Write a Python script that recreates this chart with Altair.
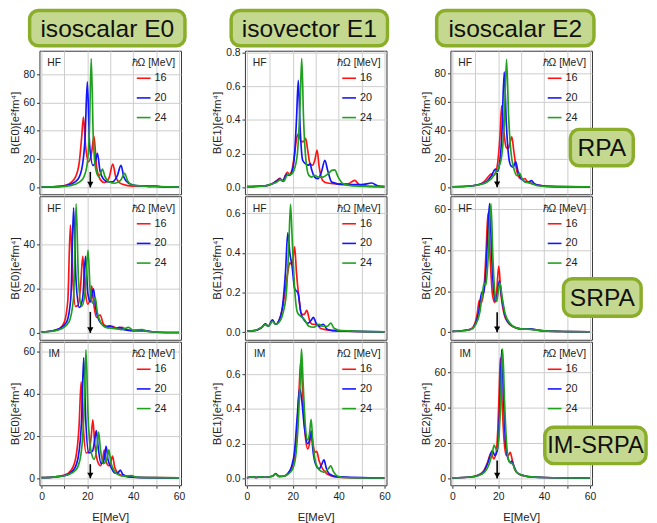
import altair as alt
import pandas as pd

OMEGAS = ["16", "20", "24"]
COLORS = ["#ff1414", "#1414ff", "#1fa01f"]
E_TICKS = [0, 10, 20, 30, 40, 50, 60]

# ---------------- isoscalar E0 ----------------
E0_RPA_16 = [(0,0.3),(8,0.8),(12,2.5),(15,8),(16.5,18),(17.5,35),(18.3,49.7),(19.2,30),(20.5,18),(21.8,24),(22.9,36),(24,15),(25.5,6),(27.5,3.5),(29.5,7),(31.1,16.5),(32.5,7),(35,2.5),(40,1),(45,1.2),(47,0.5),(50,1.0),(53,0.3),(60,0.2)]
E0_RPA_20 = [(0,0.3),(8,0.8),(13,2.5),(16,6),(17.8,15),(19,35),(20,74.5),(21,30),(22.5,15.5),(23.5,18),(24.4,24),(25.5,12),(27,6),(29,4),(31,4),(33,8),(34.7,15.6),(36,7),(38,3),(42,1.2),(48,1),(52,0.5),(60,0.2)]
E0_RPA_24 = [(0,0.3),(10,0.8),(15,2.5),(18,6),(19.8,15),(20.9,40),(21.7,91),(22.6,35),(23.8,12),(24.9,8),(25.8,10),(26.6,13),(27.6,8),(29.5,4),(32,3),(34.5,5),(36.3,10),(37.5,5),(40,1.5),(45,1.0),(60,0.2)]

E0_SRPA_16 = [(0,0.5),(5,1),(8,2),(10,5),(11.5,15),(12.6,48.8),(13.6,25),(14.8,12),(16,12.5),(17.1,22),(18,34.6),(19,20),(20.2,13),(21.2,16),(21.9,21.3),(22.8,13),(24,7),(25.6,8.1),(27,4),(29,2.5),(31,3),(33,2),(35,2.5),(37,1.5),(40,1),(44,1),(50,0.3),(60,0.2)]
E0_SRPA_20 = [(0,0.5),(5,1),(8,2),(11,5),(12.8,16),(14,56.6),(15,25),(16.5,11.5),(18,16),(19.2,34.6),(20.2,18),(21.3,14),(22.7,19.9),(23.7,11),(25.5,5),(28,3),(30,3.2),(32,2),(34,2.5),(36,1.5),(40,1),(45,1),(50,0.3),(60,0.2)]
E0_SRPA_24 = [(0,0.4),(5,0.8),(9,2),(12,5),(14,16),(15.1,58.4),(16.1,25),(17.5,12),(19,18),(20.3,37.5),(21.3,18),(22.3,13.5),(23.4,16.2),(24.4,9),(26,4.5),(28,2.5),(32,2),(35,1.5),(38,2.5),(40,1.2),(44,1.5),(46,0.7),(52,0.3),(60,0.2)]

E0_IM_16 = [(0,0.3),(5,0.6),(10,1.5),(13,4),(15,10),(16.4,25),(17.3,45.8),(18.2,25),(19.5,12),(20.8,13),(21.7,20),(22.4,27.7),(23.2,17),(24.5,8),(25.8,6),(26.7,9),(27.4,13.4),(28.2,8),(29.4,6),(30.3,8),(31,10.6),(32,5),(34,1.8),(37,0.8),(40,0.5),(50,0.3),(60,0.2)]
E0_IM_20 = [(0,0.3),(5,0.6),(10,1.3),(14,4),(16,10),(17.5,28),(18.4,57.2),(19.3,28),(20.6,12),(22.3,13),(23.2,18),(23.9,22.7),(24.7,15),(26,7),(27,7.5),(27.6,11),(28.2,15.2),(29,9),(30.5,5),(32,2.5),(33.5,2.8),(34.4,3.9),(35.5,1.8),(38,0.8),(45,0.3),(60,0.2)]
E0_IM_24 = [(0,0.3),(5,0.6),(10,1.2),(15,4),(17,10),(18.5,30),(19.4,61),(20.3,30),(21.6,13),(23,9),(24.2,15),(24.9,21.9),(25.7,14),(27,7),(28.2,8),(28.9,11),(29.4,13.5),(30.2,8),(31.5,4),(33,2),(36,1),(39.5,1.3),(41,0.6),(50,0.3),(60,0.2)]

# ---------------- isovector E1 ----------------
E1_RPA_16 = [(0,0.003),(8,0.008),(11,0.02),(13,0.04),(14.4,0.052),(15.5,0.04),(17.6,0.088),(18.5,0.075),(19.6,0.1),(20.8,0.2),(21.8,0.3),(22.6,0.316),(23.6,0.27),(24.6,0.27),(25.6,0.29),(26.5,0.22),(27.5,0.14),(28.6,0.13),(29.6,0.16),(30.6,0.22),(31.5,0.12),(33,0.04),(35,0.025),(40,0.02),(44,0.02),(47,0.04),(49,0.015),(52,0.006),(60,0.003)]
E1_RPA_20 = [(0,0.003),(8,0.008),(11,0.02),(13,0.035),(14.3,0.048),(15.7,0.035),(17.2,0.075),(18.4,0.07),(19.6,0.09),(20.8,0.2),(21.6,0.4),(22.4,0.634),(23.2,0.35),(24.3,0.16),(25.5,0.14),(26.8,0.13),(27.5,0.14),(28.3,0.1),(29.5,0.06),(31,0.05),(32.5,0.09),(34,0.16),(35.2,0.1),(37,0.03),(42,0.015),(50,0.015),(54.5,0.025),(57,0.008),(60,0.003)]
E1_RPA_24 = [(0,0.003),(8,0.008),(11,0.02),(13,0.03),(14.6,0.045),(16,0.035),(17.8,0.075),(19,0.075),(20.5,0.1),(22,0.2),(23.2,0.5),(23.9,0.765),(24.7,0.4),(25.8,0.15),(27,0.07),(28.3,0.06),(29.5,0.07),(31,0.06),(33,0.06),(35.5,0.08),(37,0.1),(38.3,0.103),(39.8,0.06),(42,0.02),(46,0.008),(60,0.003)]

E1_SRPA_16 = [(0,0.005),(4,0.01),(6.5,0.025),(8,0.04),(9.3,0.03),(11.1,0.06),(12.5,0.04),(14,0.06),(15.5,0.12),(16.8,0.22),(17.8,0.3),(18.7,0.35),(19.7,0.34),(20.8,0.43),(21.6,0.3),(22.6,0.18),(23.8,0.09),(25,0.09),(26.1,0.11),(27.3,0.06),(28.5,0.04),(30.5,0.04),(32,0.02),(35,0.012),(40,0.006),(60,0.002)]
E1_SRPA_20 = [(0,0.005),(4,0.01),(6.5,0.025),(8,0.042),(9.3,0.03),(11.1,0.062),(12.5,0.04),(14,0.06),(15.5,0.13),(16.8,0.3),(17.8,0.5),(18.7,0.4),(19.7,0.33),(20.8,0.22),(22.3,0.197),(23.5,0.1),(25,0.06),(26.5,0.045),(28,0.06),(29,0.075),(30,0.05),(31.5,0.03),(33.3,0.04),(35,0.015),(38,0.008),(60,0.002)]
E1_SRPA_24 = [(0,0.005),(4,0.01),(6.5,0.025),(8,0.038),(9.3,0.03),(11.1,0.055),(12.5,0.04),(14,0.05),(15.8,0.1),(17.2,0.2),(18.3,0.45),(19,0.644),(19.8,0.45),(20.8,0.22),(22,0.1),(23.5,0.08),(25,0.065),(27,0.03),(29,0.025),(31.5,0.04),(33,0.03),(35,0.03),(36.6,0.046),(38,0.02),(41,0.008),(60,0.002)]

E1_IM_16 = [(0,0.003),(2.5,0.009),(4,0.005),(5.5,0.009),(8,0.006),(11,0.012),(12.6,0.025),(14,0.01),(16,0.012),(18,0.03),(19.5,0.06),(20.8,0.13),(21.8,0.28),(22.7,0.5),(23.5,0.68),(24.3,0.5),(25.4,0.25),(26.5,0.17),(27.3,0.2),(28,0.27),(28.8,0.2),(29.6,0.15),(30.4,0.155),(31.5,0.1),(33,0.055),(35,0.025),(38,0.01),(42,0.005),(60,0.002)]
E1_IM_20 = [(0,0.003),(2.5,0.009),(4,0.005),(5.5,0.009),(8,0.006),(11,0.012),(12.6,0.027),(14,0.012),(16,0.012),(18,0.03),(19.5,0.07),(20.8,0.16),(21.9,0.35),(23,0.52),(23.9,0.45),(25,0.3),(26.4,0.2),(27.3,0.22),(28,0.273),(28.8,0.16),(30,0.08),(31.5,0.055),(32.6,0.08),(33.6,0.106),(34.6,0.06),(36,0.025),(39,0.01),(60,0.002)]
E1_IM_24 = [(0,0.003),(2.5,0.009),(4,0.005),(5.5,0.009),(8,0.006),(11,0.012),(12.6,0.024),(14,0.01),(16,0.012),(18,0.025),(19.8,0.05),(21.2,0.12),(22.3,0.3),(23.2,0.55),(23.8,0.745),(24.5,0.55),(25.5,0.3),(26.5,0.22),(27.3,0.26),(28,0.34),(28.8,0.2),(30,0.09),(31.5,0.05),(33.5,0.035),(35.5,0.055),(36.6,0.072),(37.7,0.04),(39.5,0.012),(42,0.005),(60,0.002)]

# ---------------- isoscalar E2 ----------------
E2_RPA_16 = [(0,0.3),(8,0.8),(12,2),(14.5,5),(16,8),(16.9,9.4),(17.8,8),(18.8,10),(19.8,18),(20.7,35),(21.5,57.3),(22.4,40),(23.4,28),(24.3,27),(25.1,31),(25.9,35.4),(26.8,25),(28,12),(29.5,6),(30.6,5.5),(31.6,6),(32.6,4),(34,3),(36,2),(40,0.8),(45,0.4),(60,0.2)]
E2_RPA_20 = [(0,0.3),(8,0.8),(12,2),(15,4),(17,8),(18.8,12.6),(19.6,11),(20.4,15),(21.5,35),(22.6,81),(23.5,45),(24.5,22),(25.5,15),(26.5,14),(27.6,17.8),(28.6,11),(30,6),(31.5,4),(33,3.5),(34.5,4.6),(35.7,2.5),(38,1.2),(42,0.5),(60,0.2)]
E2_RPA_24 = [(0,0.3),(8,0.8),(12,1.8),(15,3.5),(17,6),(18.8,10),(20.2,14),(21.5,22),(22.6,45),(23.6,89.7),(24.5,50),(25.5,25),(26.8,13),(28.2,8),(29.3,9.8),(30.4,6),(31.7,3.5),(33,3.2),(34.5,2.5),(37,1),(42,0.4),(60,0.2)]

E2_SRPA_16 = [(0,0.4),(5,0.8),(8,1.5),(10,5),(10.8,9),(11.7,15.5),(12.6,14.5),(13.8,22),(14.7,40),(15.5,58),(16.5,35),(17.5,18),(18.5,14.5),(19.3,20),(20.2,32.2),(21.2,18),(22.5,9),(24,5),(26,3),(28,2),(31,1.5),(34,1.5),(37,1),(40,0.6),(50,0.3),(60,0.2)]
E2_SRPA_20 = [(0,0.4),(5,0.8),(8,1.4),(10,4),(11.5,10),(12.8,19.5),(13.6,19),(14.6,30),(15.4,48),(16.2,62.7),(17.2,35),(18.2,18),(19,15),(19.8,20),(20.5,25),(21.5,17),(23,8),(25,4),(28,2),(31,1.5),(34,1.6),(37,1),(40,0.6),(50,0.3),(60,0.2)]
E2_SRPA_24 = [(0,0.4),(5,0.8),(8,1.3),(10,3.5),(12,10),(13.2,20),(13.8,23.8),(14.6,23),(15.5,35),(16.8,62.7),(17.7,35),(18.6,18),(19.3,15),(20,20),(20.7,24),(21.7,17),(23,9),(25,4.5),(28,2),(31,1.5),(34,1.4),(37,1),(40,0.6),(50,0.3),(60,0.2)]

E2_IM_16 = [(0,0.3),(8,0.8),(11,1.8),(13.5,4),(15.3,9),(16.9,14.5),(18,11),(19,14),(19.8,28),(20.4,50),(20.9,68.3),(21.6,45),(22.5,22),(23.5,13),(24.4,13),(25.2,14.8),(26,11),(27.2,5),(29,2.5),(32,1.2),(40,0.5),(60,0.2)]
E2_IM_20 = [(0,0.3),(8,0.8),(11,1.6),(13.5,3.5),(15.5,9),(17.4,15.8),(18.5,13),(19.6,16),(20.5,35),(21.5,73),(22.3,45),(23.2,20),(24.3,11),(25.3,9),(25.9,9.8),(26.8,7),(28,3.5),(30,2),(33,1),(40,0.5),(60,0.2)]
E2_IM_24 = [(0,0.3),(8,0.8),(11,1.5),(14,3.5),(16,8),(17.3,14),(18.2,18.8),(19.3,16),(20.2,22),(21,42),(21.9,73.4),(22.7,45),(23.6,20),(24.6,10),(25.5,8.5),(26.2,8.5),(27,6),(28,3.5),(30,2),(33,1),(40,0.5),(60,0.2)]

DATA = [
    [[E0_RPA_16, E0_RPA_20, E0_RPA_24], [E0_SRPA_16, E0_SRPA_20, E0_SRPA_24], [E0_IM_16, E0_IM_20, E0_IM_24]],
    [[E1_RPA_16, E1_RPA_20, E1_RPA_24], [E1_SRPA_16, E1_SRPA_20, E1_SRPA_24], [E1_IM_16, E1_IM_20, E1_IM_24]],
    [[E2_RPA_16, E2_RPA_20, E2_RPA_24], [E2_SRPA_16, E2_SRPA_20, E2_SRPA_24], [E2_IM_16, E2_IM_20, E2_IM_24]],
]

COL_TITLES = ["isoscalar E0", "isovector E1", "isoscalar E2"]
ROW_TITLES = ["RPA", "SRPA", "IM-SRPA"]
ROW_TAGS = ["HF", "HF", "IM"]
Y_TITLES = ["B(E0)[e²fm⁴]", "B(E1)[e²fm⁴]", "B(E2)[e²fm⁴]"]
Y_DOMAINS = [
    [[-4.8, 96.5], [-3.1, 61.8], [-3.3, 64.8]],
    [[-0.042, 0.81], [-0.038, 0.685], [-0.04, 0.787]],
    [[-5.0, 95.8], [-3.7, 66.3], [-3.9, 77.4]],
]
Y_TICKS = [
    [[0, 20, 40, 60, 80], [0, 20, 40], [0, 20, 40, 60]],
    [[0, 0.2, 0.4, 0.6, 0.8], [0, 0.2, 0.4, 0.6], [0, 0.2, 0.4, 0.6]],
    [[0, 20, 40, 60, 80], [0, 20, 40, 60], [0, 20, 40, 60]],
]
Y_FORMAT = ["d", ".1f", "d"]
ARROW_E = [21.3, None, 19.5]
ARROW_TOP = [[11, 9.5, 6.7], None, [10, 9.7, 10.2]]

W, H = 144, 146
X_DOMAIN = [-0.9, 60.9]
FONT = "Liberation Sans"
BOX_FILL = "#c4d98f"
BOX_STROKE = "#8aad2a"

ONE = pd.DataFrame({"a": [0]})


def text_layer(txt, x, y, size=10.5, align="center"):
    return alt.Chart(ONE).mark_text(font=FONT, fontSize=size, align=align, baseline="middle", color="#222").encode(
        x=alt.value(x), y=alt.value(y), text=alt.value(txt))


def box_layers(txt, x1, x2, y1, y2, size=25):
    rect = alt.Chart(ONE).mark_rect(fill=BOX_FILL, stroke=BOX_STROKE, strokeWidth=3.5, cornerRadius=9).encode(
        x=alt.value(x1), x2=alt.value(x2), y=alt.value(y1), y2=alt.value(y2))
    t = alt.Chart(ONE).mark_text(font=FONT, fontSize=size, align="center", baseline="middle", color="#111").encode(
        x=alt.value((x1 + x2) / 2), y=alt.value((y1 + y2) / 2 + 1), text=alt.value(txt))
    return [rect, t]


def panel(ci, ri):
    rows = []
    for om, pts in zip(OMEGAS, DATA[ci][ri]):
        for e, b in pts:
            rows.append({"E": e, "B": b, "w": om})
    df = pd.DataFrame(rows)
    bottom = ri == 2
    xs = alt.Scale(domain=X_DOMAIN, nice=False, zero=False)
    ys = alt.Scale(domain=Y_DOMAINS[ci][ri], nice=False, zero=False)
    if bottom:
        xaxis = alt.Axis(values=E_TICKS, grid=True, domain=False, tickSize=3,
                         labelExpr="datum.value % 20 == 0 ? datum.label : ''",
                         labelPadding=3, titlePadding=10)
        xenc = lambda f: alt.X(f, scale=xs, axis=xaxis, title="E[MeV]")
    else:
        xaxis = alt.Axis(values=E_TICKS, grid=True, domain=False, labels=False, ticks=False)
        xenc = lambda f: alt.X(f, scale=xs, axis=xaxis, title=None)
    yaxis = alt.Axis(values=Y_TICKS[ci][ri], format=Y_FORMAT[ci], grid=True, domain=False, tickSize=3,
                     labelPadding=2, titlePadding=3)
    yenc = lambda f: alt.Y(f, scale=ys, axis=yaxis, title=Y_TITLES[ci])

    layers = []
    layers.append(alt.Chart(df).mark_line(interpolate="monotone", strokeWidth=1.7, clip=True).encode(
        x=xenc("E:Q"), y=yenc("B:Q"),
        color=alt.Color("w:N", scale=alt.Scale(domain=OMEGAS, range=COLORS), legend=None)))
    if ARROW_E[ci] is not None:
        adf = pd.DataFrame({"E": [ARROW_E[ci]], "B": [ARROW_TOP[ci][ri]], "B0": [0.0]})
        layers.append(alt.Chart(adf).mark_rule(color="black", strokeWidth=1.6).encode(
            x=xenc("E:Q"), y=yenc("B:Q"), y2="B0:Q"))
        layers.append(alt.Chart(adf).mark_point(shape="triangle-down", filled=True, color="black",
                                               opacity=1, size=40, yOffset=-3).encode(
            x=xenc("E:Q"), y=yenc("B0:Q")))
    # in-panel annotations
    layers.append(text_layer(ROW_TAGS[ri], 15, 13))
    layers.append(text_layer("ℏΩ [MeV]", 138, 13, align="right"))
    for i, (om, colr) in enumerate(zip(OMEGAS, COLORS)):
        yy = 28 + 20 * i
        layers.append(alt.Chart(ONE).mark_rule(color=colr, strokeWidth=1.6).encode(
            x=alt.value(99), x2=alt.value(113), y=alt.value(yy)))
        layers.append(text_layer(om, 117, yy, size=11, align="left"))
    # header boxes
    if ri == 0:
        offs = [(-10, 148), (-14, 145), (-14, 146)][ci]
        layers += box_layers(COL_TITLES[ci], offs[0], offs[1], -41, -5)
    if ci == 2:
        bx = [(122, 186, 80, 117), (115, 194, 84, 122), (96, 199, 87, 124)][ri]
        layers += box_layers(ROW_TITLES[ri], *bx, size=[25, 25, 24][ri])
    return alt.layer(*layers).properties(width=W, height=H)


cols = []
for ci in range(3):
    col = alt.vconcat(*[panel(ci, ri) for ri in range(3)], spacing=0).resolve_scale(
        x="independent", y="independent")
    cols.append(col)

left = alt.hconcat(cols[0], cols[1], spacing=23).resolve_scale(x="independent", y="independent")
chart = alt.hconcat(left, cols[2], spacing=28).resolve_scale(x="independent", y="independent").properties(
    padding={"left": 0, "top": -5, "right": 0, "bottom": 0}
).configure_view(stroke="#333", strokeWidth=1).configure_axis(
    labelFont=FONT, titleFont=FONT, labelFontSize=10.5, titleFontSize=11.5, labelColor="#222",
    titleColor="#222", tickColor="#333", gridColor="#cccccc", gridWidth=1, titleFontWeight="normal"
)

chart.save("out.html", embed_options={"renderer": "svg", "actions": False})
